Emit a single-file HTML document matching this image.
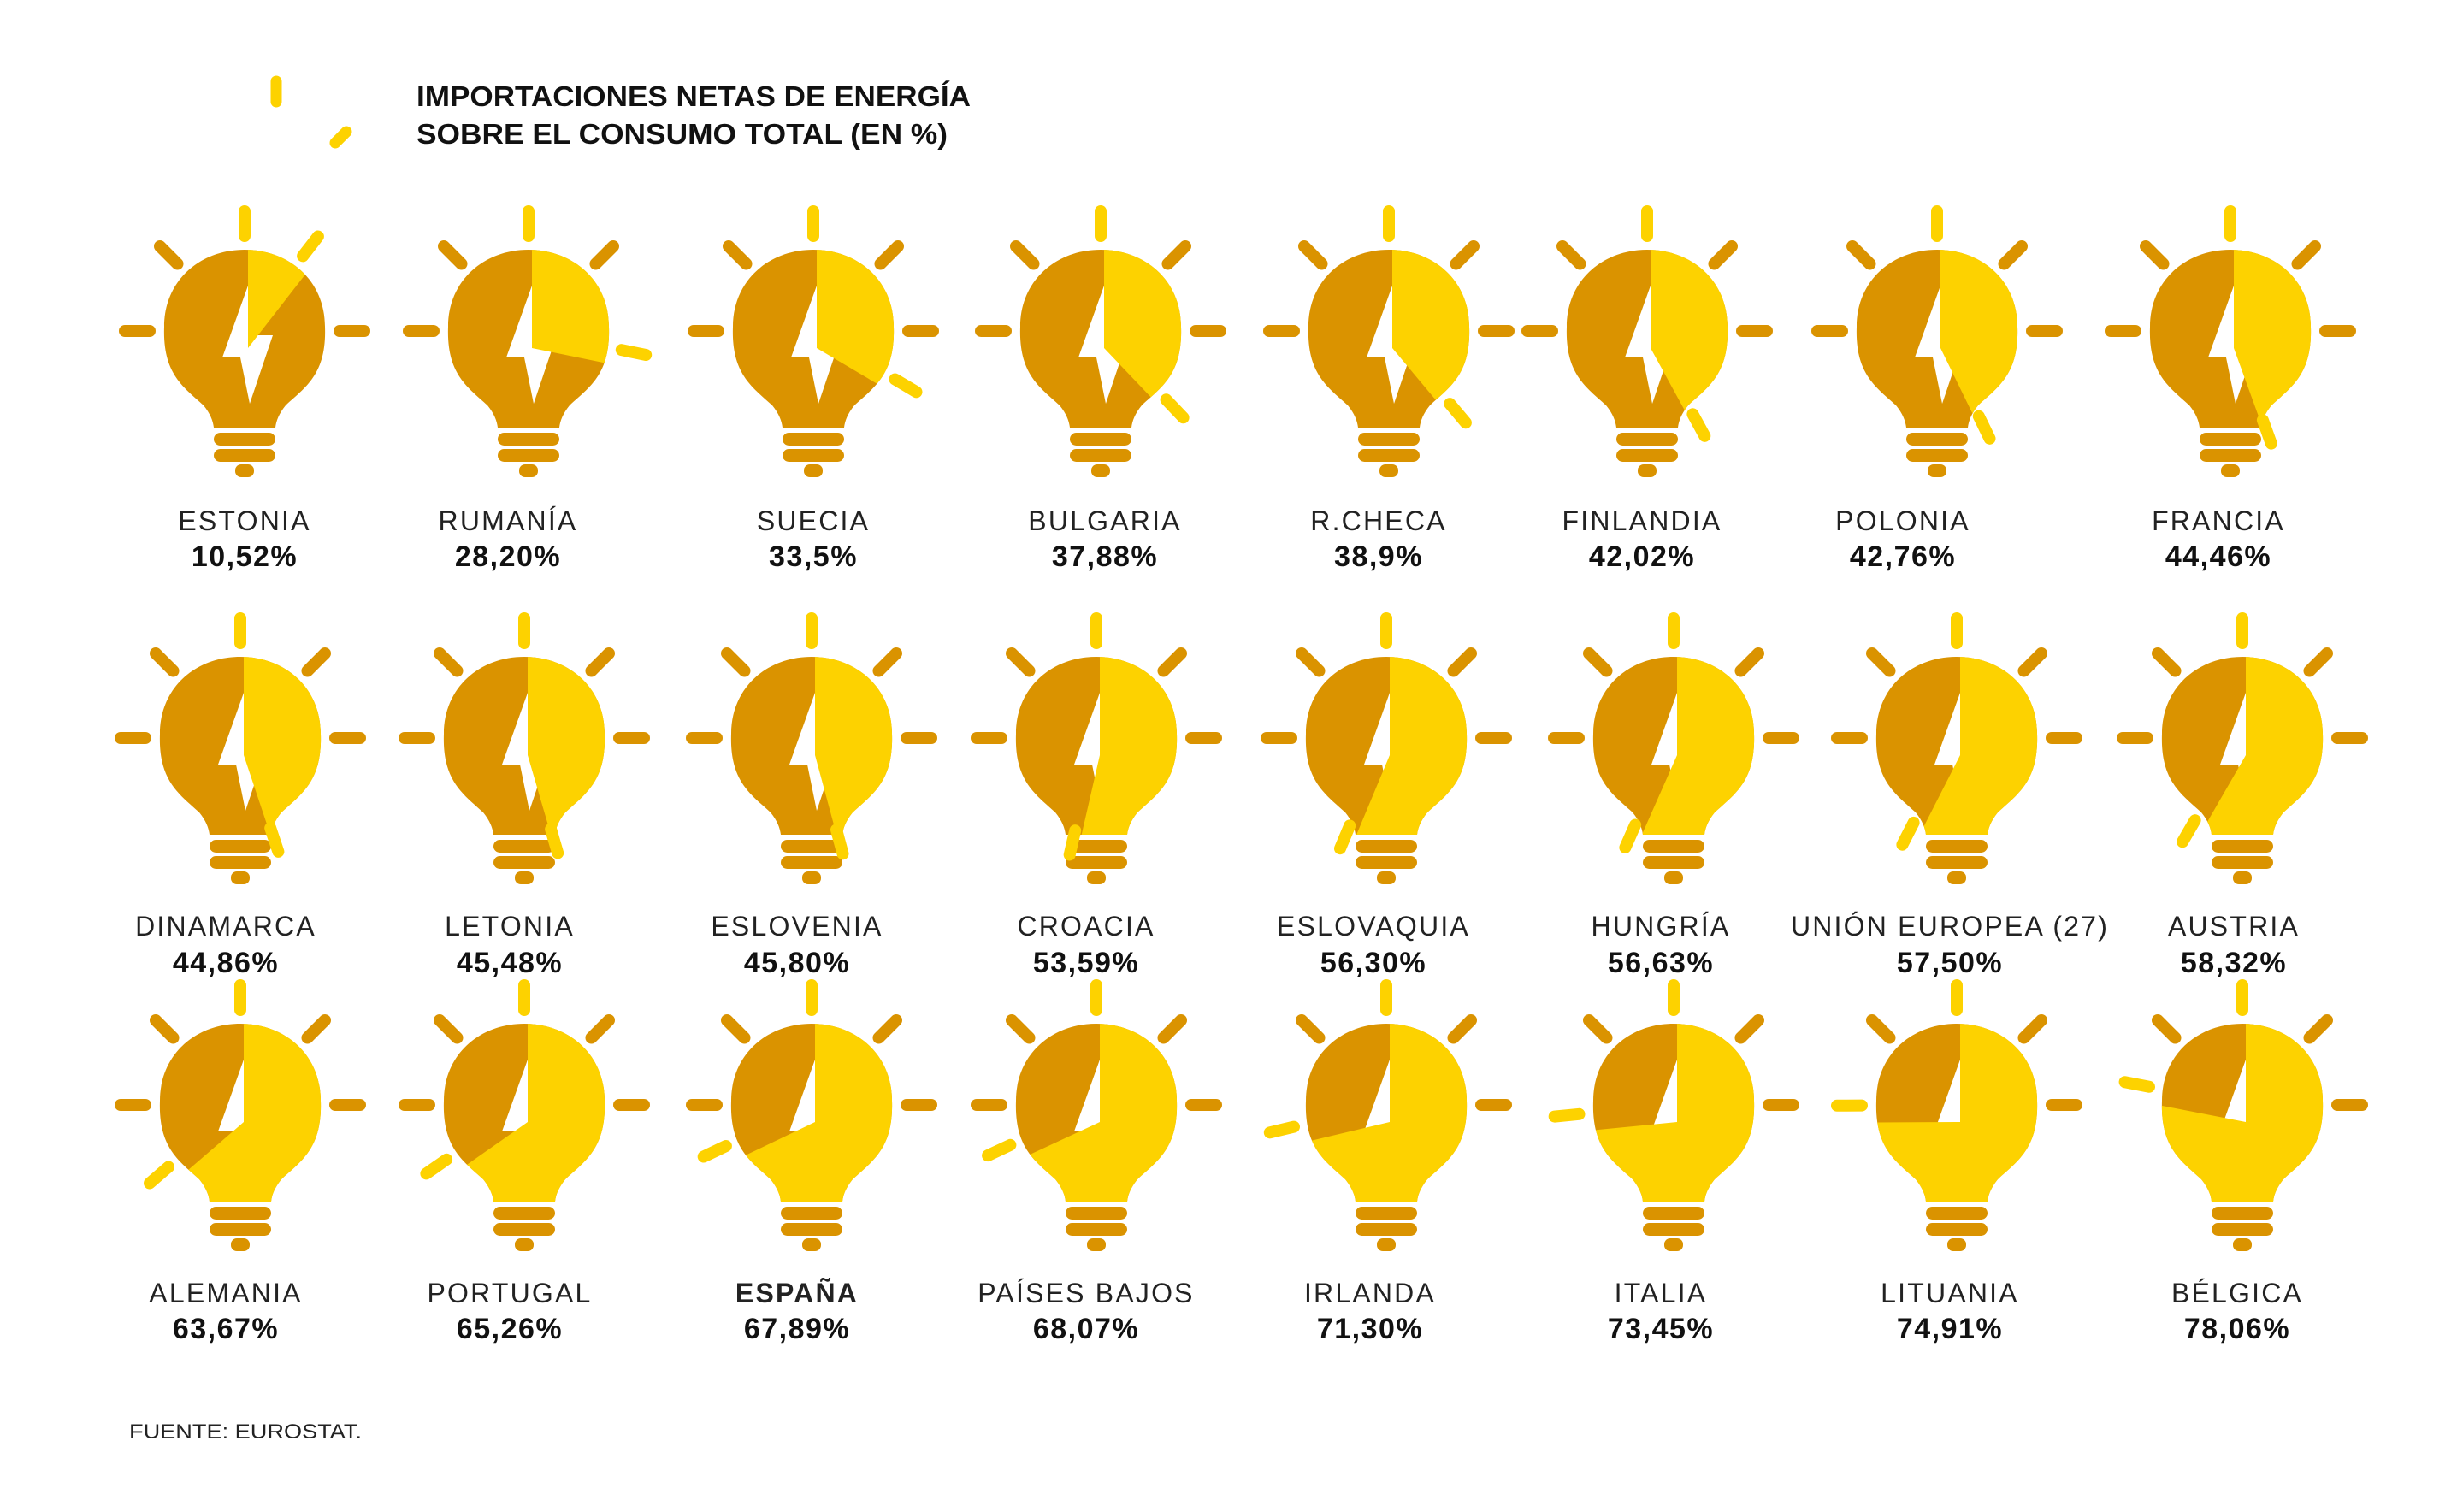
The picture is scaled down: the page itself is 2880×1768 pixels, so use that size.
<!DOCTYPE html>
<html><head><meta charset="utf-8">
<style>
html,body{margin:0;padding:0;background:#fff;}
svg{display:block;}
.n{font-family:"Liberation Sans",sans-serif;font-size:32px;fill:#222;text-anchor:middle;letter-spacing:2.2px;}
.p{font-family:"Liberation Sans",sans-serif;font-size:34px;font-weight:bold;fill:#111;text-anchor:middle;letter-spacing:1.5px;}
.t{font-family:"Liberation Sans",sans-serif;font-size:33px;font-weight:bold;fill:#111;}
</style></head>
<body>
<svg id="s" width="2880" height="1768" viewBox="0 0 2880 1768" xmlns="http://www.w3.org/2000/svg">
<rect width="2880" height="1768" fill="#fff"/>
<line x1="323" y1="95" x2="323" y2="119" stroke="#FDD200" stroke-width="13" stroke-linecap="round"/>
<line x1="392" y1="167" x2="405" y2="154" stroke="#FDD200" stroke-width="13" stroke-linecap="round"/>
<text class="t" x="487" y="124" textLength="648" lengthAdjust="spacingAndGlyphs">IMPORTACIONES NETAS DE ENERGÍA</text>
<text class="t" x="487" y="168" textLength="621" lengthAdjust="spacingAndGlyphs">SOBRE EL CONSUMO TOTAL (EN %)</text>
<g id="bulbs"></g>

<text class="n" x="286" y="620">ESTONIA</text><text class="p" x="286" y="662">10,52%</text>
<text class="n" x="594" y="620">RUMANÍA</text><text class="p" x="594" y="662">28,20%</text>
<text class="n" x="951" y="620">SUECIA</text><text class="p" x="951" y="662">33,5%</text>
<text class="n" x="1292" y="620">BULGARIA</text><text class="p" x="1292" y="662">37,88%</text>
<text class="n" x="1612" y="620">R.CHECA</text><text class="p" x="1612" y="662">38,9%</text>
<text class="n" x="1920" y="620">FINLANDIA</text><text class="p" x="1920" y="662">42,02%</text>
<text class="n" x="2225" y="620">POLONIA</text><text class="p" x="2225" y="662">42,76%</text>
<text class="n" x="2594" y="620">FRANCIA</text><text class="p" x="2594" y="662">44,46%</text>

<text class="n" x="264" y="1094">DINAMARCA</text><text class="p" x="264" y="1137">44,86%</text>
<text class="n" x="596" y="1094">LETONIA</text><text class="p" x="596" y="1137">45,48%</text>
<text class="n" x="932" y="1094">ESLOVENIA</text><text class="p" x="932" y="1137">45,80%</text>
<text class="n" x="1270" y="1094">CROACIA</text><text class="p" x="1270" y="1137">53,59%</text>
<text class="n" x="1606" y="1094">ESLOVAQUIA</text><text class="p" x="1606" y="1137">56,30%</text>
<text class="n" x="1942" y="1094">HUNGRÍA</text><text class="p" x="1942" y="1137">56,63%</text>
<text class="n" x="2280" y="1094">UNIÓN EUROPEA (27)</text><text class="p" x="2280" y="1137">57,50%</text>
<text class="n" x="2612" y="1094">AUSTRIA</text><text class="p" x="2612" y="1137">58,32%</text>

<text class="n" x="264" y="1523">ALEMANIA</text><text class="p" x="264" y="1565">63,67%</text>
<text class="n" x="596" y="1523">PORTUGAL</text><text class="p" x="596" y="1565">65,26%</text>
<text class="n" x="932" y="1523" style="font-weight:bold">ESPAÑA</text><text class="p" x="932" y="1565">67,89%</text>
<text class="n" x="1270" y="1523">PAÍSES BAJOS</text><text class="p" x="1270" y="1565">68,07%</text>
<text class="n" x="1602" y="1523">IRLANDA</text><text class="p" x="1602" y="1565">71,30%</text>
<text class="n" x="1942" y="1523">ITALIA</text><text class="p" x="1942" y="1565">73,45%</text>
<text class="n" x="2280" y="1523">LITUANIA</text><text class="p" x="2280" y="1565">74,91%</text>
<text class="n" x="2616" y="1523">BÉLGICA</text><text class="p" x="2616" y="1565">78,06%</text>

<text x="151" y="1682" style="font-family:'Liberation Sans',sans-serif;font-size:24px;fill:#222;" textLength="272" lengthAdjust="spacingAndGlyphs">FUENTE: EUROSTAT.</text>
</svg>
<script>
(function(){
var D="#DA9300",Y="#FDD200";
var rows=[
 {top:292,xs:[286,618,951,1287,1624,1926,2265,2608],v:[10.52,28.20,33.5,37.88,38.9,42.02,42.76,44.46]},
 {top:768,xs:[281,613,949,1282,1621,1957,2288,2622],v:[44.86,45.48,45.80,53.59,56.30,56.63,57.50,58.32]},
 {top:1197,xs:[281,613,949,1282,1621,1957,2288,2622],v:[63.67,65.26,67.89,68.07,71.30,73.45,74.91,78.06]}
];
var g=document.getElementById('bulbs'),h='',id=0;
function ray(cx,cy,a,c){var r=a*Math.PI/180,s=Math.sin(r),k=-Math.cos(r);
 return '<line x1="'+(cx+s*111).toFixed(1)+'" y1="'+(cy+k*111).toFixed(1)+'" x2="'+(cx+s*140).toFixed(1)+'" y2="'+(cy+k*140).toFixed(1)+'" stroke="'+c+'" stroke-width="14" stroke-linecap="round"/>';}
rows.forEach(function(R){R.xs.forEach(function(cx,i){
 var t=R.top,v=R.v[i],ang=v*3.6;id++;
 var body='M'+(cx-94)+','+(t+90)+' C'+(cx-94)+','+(t+36)+' '+(cx-52)+','+t+' '+cx+','+t+' C'+(cx+52)+','+t+' '+(cx+94)+','+(t+36)+' '+(cx+94)+','+(t+90)+' C'+(cx+96)+','+(t+145)+' '+(cx+72)+','+(t+160)+' '+(cx+48)+','+(t+182)+' C'+(cx+40)+','+(t+192)+' '+(cx+37)+','+(t+200)+' '+(cx+36)+','+(t+208)+' L'+(cx-36)+','+(t+208)+' C'+(cx-37)+','+(t+200)+' '+(cx-40)+','+(t+192)+' '+(cx-48)+','+(t+182)+' C'+(cx-72)+','+(t+160)+' '+(cx-96)+','+(t+145)+' '+(cx-94)+','+(t+90)+' Z';
 h+='<clipPath id="c'+id+'"><path d="'+body+'"/></clipPath>';
 h+='<path d="'+body+'" fill="'+D+'"/>';
 var bp=[[4,42],[-26,126],[-5,126],[6,180],[33,100],[12,100]].map(function(p){return (cx+p[0])+','+(t+p[1]);}).join(' ');
 h+='<polygon points="'+bp+'" fill="#fff"/>';
 var px=cx+4,py=t+115,R2=300,a=ang*Math.PI/180;
 var ex=px+R2*Math.sin(a),ey=py-R2*Math.cos(a),large=ang>180?1:0;
 h+='<path clip-path="url(#c'+id+')" d="M'+px+','+py+' L'+px+','+(py-R2)+' A'+R2+' '+R2+' 0 '+large+' 1 '+ex.toFixed(1)+','+ey.toFixed(1)+' Z" fill="'+Y+'"/>';
 h+='<rect x="'+(cx-36)+'" y="'+(t+214)+'" width="72" height="15" rx="7.5" fill="'+D+'"/>';
 h+='<rect x="'+(cx-36)+'" y="'+(t+233)+'" width="72" height="15" rx="7.5" fill="'+D+'"/>';
 h+='<rect x="'+(cx-11)+'" y="'+(t+251)+'" width="22" height="15" rx="7" fill="'+D+'"/>';
 var rcy=t+95;
 h+=ray(cx,rcy,0,Y);
 [45,90,270,315].forEach(function(a2){if(Math.abs(a2-ang)>22)h+=ray(cx,rcy,a2,D);});
 h+=ray(cx,rcy,ang,Y);
});});
g.innerHTML=h;
})();
</script>
</body></html>
